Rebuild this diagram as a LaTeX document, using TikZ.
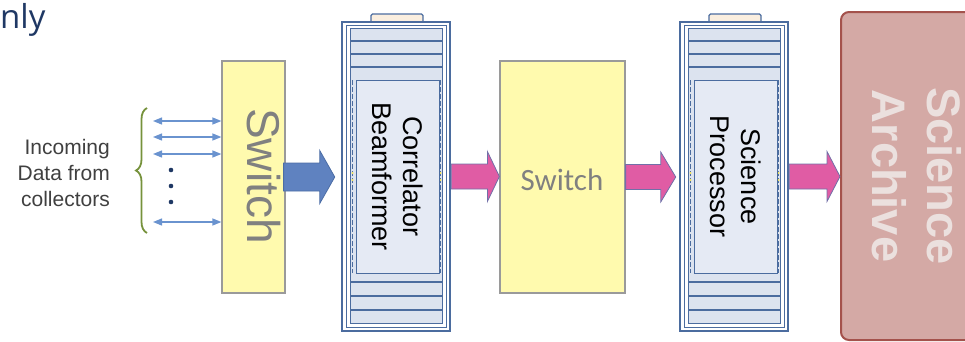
\documentclass[tikz,border=0pt]{standalone}
\usepackage{fontspec}
\setmainfont{Liberation Sans}
\newfontfamily\carlitofont{Carlito}
\newfontfamily\opensansfont{Open Sans}
\usetikzlibrary{arrows.meta,calc,decorations.pathreplacing}

\definecolor{titleblue}{HTML}{1F3864}
\definecolor{switchfill}{HTML}{FFFAAE}
\definecolor{switchedge}{HTML}{9A9A9A}
\definecolor{switchtext}{HTML}{808080}
\definecolor{rackline}{HTML}{4B6C9F}
\definecolor{slatfill}{HTML}{DCE3EF}
\definecolor{panelfill}{HTML}{E5EAF4}
\definecolor{tabfill}{HTML}{FAEEDF}
\definecolor{bluearrow}{HTML}{5F82C0}
\definecolor{bluearrowedge}{HTML}{4C6DA5}
\definecolor{pinkarrow}{HTML}{E05CA4}
\definecolor{pinkedge}{HTML}{7070A8}
\definecolor{archivefill}{HTML}{D4A9A5}
\definecolor{archiveedge}{HTML}{A4524C}
\definecolor{archivetext}{HTML}{EBE0DE}
\definecolor{bracegreen}{HTML}{76923C}
\definecolor{linkblue}{HTML}{6A93CF}
\definecolor{dotnavy}{HTML}{1F3864}
\definecolor{labelgray}{HTML}{404040}
\definecolor{pinyellow}{HTML}{F2E25A}

% block arrow: style, start point, end (tip) point, half shaft, half head, head length
\newcommand\blockarrow[6]{%
  \path[#1] let \p1=(#2), \p2=(#3) in
    (\x1,\y1+#4) -- (\x2-#6,\y1+#4) -- (\x2-#6,\y1+#5) -- (\x2,\y1) --
    (\x2-#6,\y1-#5) -- (\x2-#6,\y1-#4) -- (\x1,\y1-#4) -- cycle;}

% rack unit: name, left x, label
\newcommand\rackunit[3]{%
  \begin{scope}[shift={(#2,0)}]
    \draw[racktab] (29,14) rectangle (81,27);
    \node[rackframe] (#1) at (54,176.5) {};
    \draw[rackline, line width=0.8pt] (4,25.5) rectangle (104,327.5);
    \draw[slatbox] (8,28) rectangle (100,323);
    \foreach \yy in {41,54,67,282,296,310}
      \draw[rackline, line width=1.3pt] (8,\yy) -- (100,\yy);
    \draw[rackline, line width=1pt, dash pattern=on 5pt off 2pt] (10.5,80) -- (10.5,273);
    \draw[rackline, line width=1pt, dash pattern=on 5pt off 2pt] (98.5,80) -- (98.5,273);
    \fill[pinyellow] (10.5,173) circle (1.1) (10.5,180) circle (1.1)
                     (98.5,173) circle (1.1) (98.5,180) circle (1.1);
    \node[rackpanel] (#1-panel) at (55.5,176.5) {};
    \node[racktext] (#1-text) at (#1-panel.center) {#3};
  \end{scope}}

\begin{document}
\begin{tikzpicture}[x=1pt, y=-1pt,
  switchbox/.style={draw=switchedge, fill=switchfill, line width=1.2pt,
    minimum height=232pt, inner sep=0pt},
  rackframe/.style={draw=rackline, fill=white, line width=2.5pt,
    minimum width=108pt, minimum height=309pt, inner sep=0pt},
  racktab/.style={draw=rackline, fill=tabfill, line width=1.2pt, rounded corners=1.5pt},
  slatbox/.style={draw=rackline, fill=slatfill, line width=1pt},
  rackpanel/.style={draw=rackline, fill=panelfill, line width=1pt,
    minimum width=83pt, minimum height=193pt, inner sep=0pt},
  racktext/.style={rotate=-90, align=center, inner sep=0pt,
    font=\fontsize{27}{31}\selectfont, text=black},
  link/.style={draw=linkblue, line width=1.3pt, <->,
    >={Triangle[length=9pt,width=7pt]}},
  bigblue/.style={fill=bluearrow, draw=bluearrowedge, line width=0.8pt},
  bigpink/.style={fill=pinkarrow, draw=pinkedge, line width=0.8pt},
  archivebox/.style={draw=archiveedge, fill=archivefill, line width=2pt,
    rounded corners=8pt, minimum width=150pt, minimum height=328pt, inner sep=0pt},
]
\path[use as bounding box] (0,0) rectangle (965,341);
\clip (0,0) rectangle (965,341);

% heading fragment
\node[anchor=base west, inner sep=0pt, text=titleblue,
      font=\opensansfont\fontsize{33}{40}\selectfont] (title) at (0,28) {nly};

% input side
\node[anchor=east, align=right, inner sep=0pt, text=labelgray,
      font=\fontsize{21}{26}\selectfont] (incoming) at (110,173)
      {Incoming\\Data from\\collectors};
\coordinate (braceBot) at (147,233);
\coordinate (braceTop) at (147,108);
\draw[bracegreen, line width=1.8pt, decorate,
      decoration={brace, amplitude=11pt}] (braceBot) -- (braceTop);

% switches
\node[switchbox, minimum width=63pt] (sw1) at (253.5,177) {};
\node[rotate=-90, inner sep=0pt, text=switchtext,
      font=\fontsize{46}{50}\selectfont] (sw1-label) at (264,176) {Switch};
\node[switchbox, minimum width=125pt] (sw2) at (562.5,177) {};
\node[inner sep=0pt, text=switchtext,
      font=\carlitofont\fontsize{31}{36}\selectfont] (sw2-label) at (562,180) {Switch};

% collector links
\coordinate (in1) at (153,121);
\coordinate (in2) at (153,137);
\coordinate (in3) at (153,154);
\coordinate (in4) at (153,222);
\foreach \c in {in1,in2,in3,in4}
  \draw[link] (\c) -- (\c -| sw1.west);
\fill[dotnavy] (171,170) circle (2.3) (171,186) circle (2.3) (171,202) circle (2.3);

% processing racks
\rackunit{rackA}{342}{Correlator\\Beamformer}
\rackunit{rackB}{680}{Science\\Processor}

% archive
\node[archivebox] (archive) at (916,176) {};
\node[rotate=-90, align=center, inner sep=0pt, text=archivetext,
      font=\bfseries\fontsize{47}{55}\selectfont] (archive-label) at (916.5,176)
      {Science\\Archive};

% data flow
\blockarrow{bigblue}{$(sw1.east)+(-2,0)$}{$(rackA.west)+(-6,0)$}{14pt}{26.5pt}{15pt}
\blockarrow{bigpink}{rackA.east}{sw2.west}{12.5pt}{25pt}{12pt}
\blockarrow{bigpink}{sw2.east}{$(rackB.west)+(-3,0)$}{12.5pt}{25pt}{15pt}
\blockarrow{bigpink}{rackB.east}{archive.west}{12.5pt}{25pt}{13pt}
\end{tikzpicture}
\end{document}
